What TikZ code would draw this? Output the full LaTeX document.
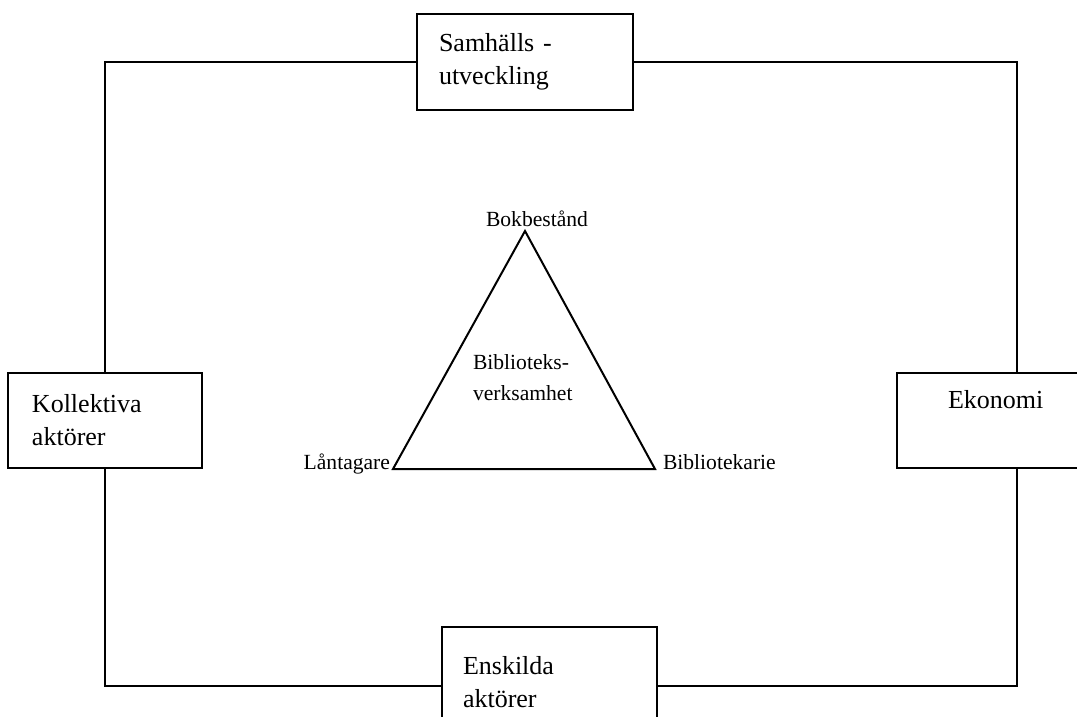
\documentclass[tikz,border=0pt]{standalone}
\usepackage{fontspec}
\setmainfont{Liberation Serif}

\begin{document}
\begin{tikzpicture}[x=0.5pt, y=-0.5pt, line width=1pt,
    ruta/.style={draw, align=left, inner ysep=0pt, font=\fontsize{13}{16.5}\selectfont},
    hornord/.style={inner sep=0pt, font=\fontsize{10.8}{15.5}\selectfont}]
  \clip (0,0) rectangle (1077,717);
  % rutor runt om
  \node[ruta, inner xsep=11pt, text width=86pt, minimum height=48pt] (samh) at (525,62) {Samhälls -\\utveckling};
  \node[ruta, inner xsep=12pt, text width=73pt, minimum height=47.5pt] (koll) at (105,420.5) {Kollektiva\\aktörer};
  \node[ruta, inner xsep=25.5pt, text width=69pt, minimum height=47.5pt] (ekon) at (1017,420.5) {Ekonomi\\\strut};
  \node[ruta, inner xsep=10.5pt, text width=86.5pt, minimum height=55pt] (ensk) at (549.5,682) {Enskilda\\aktörer};
  \draw (koll.north) |- (samh.west);
  \draw (samh.east) -| (ekon.north);
  \draw (ekon.south) |- ([yshift=-2pt]ensk.east);
  \draw ([yshift=-2pt]ensk.west) -| (koll.south);
  % triangeln
  \coordinate (bok) at (525,231);
  \coordinate (lan) at (393,469);
  \coordinate (bib) at (655,469);
  \draw[line join=miter] (bok) -- (bib) -- (lan) -- cycle;
  \node[hornord, anchor=base] (bokt) at (537,227) {Bokbestånd};
  \node[hornord, anchor=base east] (lant) at (391,469) {Låntagare};
  \node[hornord, anchor=base west] (bibt) at (662,469) {Bibliotekarie};
  \node[hornord, anchor=base west, align=left] (verk) at (472,400) {Biblioteks-\\verksamhet};
\end{tikzpicture}
\end{document}
